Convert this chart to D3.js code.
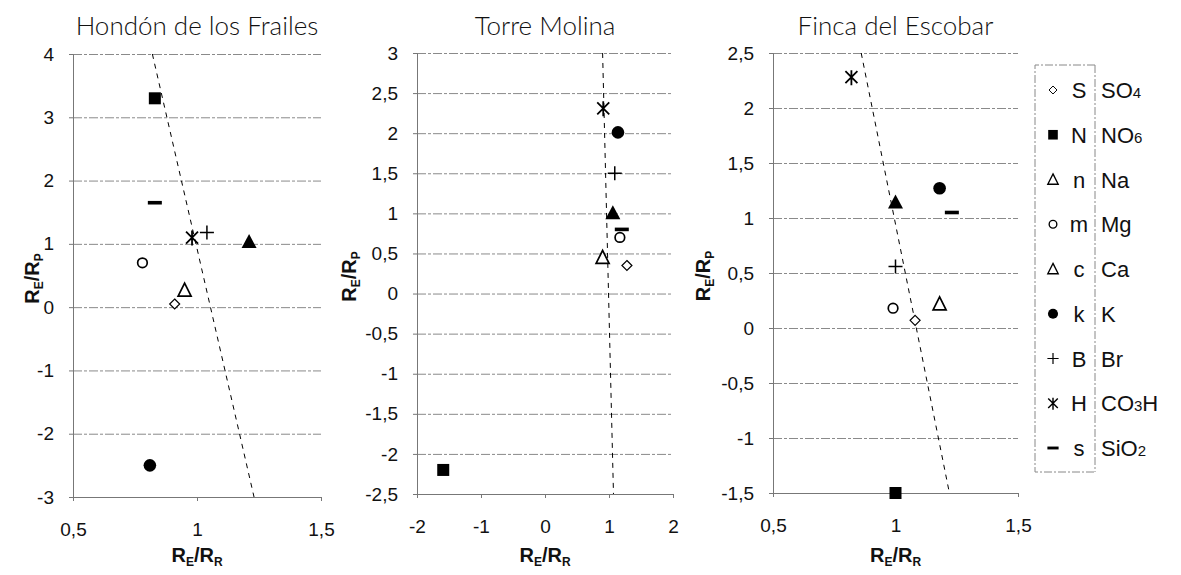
<!DOCTYPE html>
<html><head><meta charset="utf-8">
<script src="https://cdn.jsdelivr.net/npm/d3@7"></script>
<style>body{margin:0;background:#fff}svg{display:block}</style>
</head><body><svg id="c" width="1181" height="575"></svg>
<script>
// Ions (order shared by all panels)
const ions = ["SO4", "NO6", "Na", "Mg", "Ca", "K", "Br", "CO3H", "SiO2"];
const ionLetters = ["S", "N", "n", "m", "c", "k", "B", "H", "s"];
const ionMarkers = ["diamond", "square", "triangleFilled", "circleOpen", "triangleOpen", "circleFilled", "plus", "asterisk", "dash"];
const legendMarkers = ["diamond", "square", "triangleOpen", "circleOpen", "triangleOpen", "circleFilled", "plus", "asterisk", "dash"];

const titles = ["Hondón de los Frailes", "Torre Molina", "Finca del Escobar"];

// Hondón de los Frailes
const hondonX = [0.91, 0.83, 1.21, 0.78, 0.95, 0.81, 1.04, 0.98, 0.83];
const hondonY = [0.05, 3.30, 1.03, 0.70, 0.27, -2.50, 1.18, 1.10, 1.65];
const hondonLineX = [0.82, 1.23];
const hondonLineY = [4, -3];
const hondonXTicks = [0.5, 1, 1.5];
const hondonYTicks = [-3, -2, -1, 0, 1, 2, 3, 4];

// Torre Molina
const torreX = [1.28, -1.59, 1.06, 1.17, 0.90, 1.14, 1.09, 0.91, 1.20];
const torreY = [0.35, -2.20, 1.00, 0.70, 0.45, 2.01, 1.50, 2.31, 0.80];
const torreLineX = [0.90, 1.07];
const torreLineY = [3, -2.5];
const torreXTicks = [-2, -1, 0, 1, 2];
const torreYTicks = [-2.5, -2, -1.5, -1, -0.5, 0, 0.5, 1, 1.5, 2, 2.5, 3];

// Finca del Escobar
const fincaX = [1.08, 1.00, 1.00, 0.99, 1.18, 1.18, 1.00, 0.82, 1.23];
const fincaY = [0.07, -1.50, 1.14, 0.18, 0.22, 1.27, 0.56, 2.28, 1.05];
const fincaLineX = [0.86, 1.22];
const fincaLineY = [2.5, -1.5];
const fincaXTicks = [0.5, 1, 1.5];
const fincaYTicks = [-1.5, -1, -0.5, 0, 0.5, 1, 1.5, 2, 2.5];

const panels = [
  {title: titles[0], xs: hondonX, ys: hondonY, lx: hondonLineX, ly: hondonLineY, xt: hondonXTicks, yt: hondonYTicks,
   box: {x0: 73, x1: 321, y0: 54, y1: 497}, ylabX: 39},
  {title: titles[1], xs: torreX, ys: torreY, lx: torreLineX, ly: torreLineY, xt: torreXTicks, yt: torreYTicks,
   box: {x0: 417, x1: 673, y0: 53, y1: 494}, ylabX: 356},
  {title: titles[2], xs: fincaX, ys: fincaY, lx: fincaLineX, ly: fincaLineY, xt: fincaXTicks, yt: fincaYTicks,
   box: {x0: 773, x1: 1018, y0: 53, y1: 493}, ylabX: 710}
];

const FONT = "'Liberation Sans', Arial, Helvetica, sans-serif";
const svg = d3.select("#c");
const fmt = v => String(v).replace(".", ",");

function drawMarker(g, type, cx, cy, s) {
  s = s || 1;
  const k = g.append("g").attr("transform", `translate(${cx},${cy}) scale(${s})`);
  switch (type) {
    case "diamond":
      k.append("path").attr("d", "M0,-5L5,0L0,5L-5,0Z").attr("fill", "#fff").attr("stroke", "#000").attr("stroke-width", 1.2); break;
    case "square":
      k.append("rect").attr("x", -6).attr("y", -6).attr("width", 12).attr("height", 12).attr("fill", "#000"); break;
    case "triangleFilled":
      k.append("path").attr("d", "M0,-8L7.5,6L-7.5,6Z").attr("fill", "#000"); break;
    case "triangleOpen":
      k.append("path").attr("d", "M0,-7L6.5,6L-6.5,6Z").attr("fill", "#fff").attr("stroke", "#000").attr("stroke-width", 1.7); break;
    case "circleOpen":
      k.append("circle").attr("r", 4.8).attr("fill", "#fff").attr("stroke", "#000").attr("stroke-width", 1.7); break;
    case "circleFilled":
      k.append("circle").attr("r", 6.3).attr("fill", "#000"); break;
    case "plus":
      k.append("path").attr("d", "M-7,0H7M0,-7V7").attr("stroke", "#000").attr("stroke-width", 1.5); break;
    case "asterisk":
      k.append("path").attr("d", "M-6,-6L6,6M6,-6L-6,6M0,-7V8").attr("stroke", "#000").attr("stroke-width", 1.8); break;
    case "dash":
      k.append("rect").attr("x", -7).attr("y", -1.8).attr("width", 14).attr("height", 3.6).attr("fill", "#000"); break;
  }
}

function ratioLabel(parent, x, y, sub2, rotate) {
  const t = parent.append("text")
    .attr("font-family", FONT).attr("font-weight", "bold").attr("font-size", 20)
    .attr("text-anchor", "middle").attr("fill", "#111")
    .attr("transform", rotate ? `translate(${x},${y}) rotate(-90)` : `translate(${x},${y})`);
  t.append("tspan").text("R");
  t.append("tspan").attr("font-size", 12).attr("dy", 4).text("E");
  t.append("tspan").attr("dy", -4).text("/R");
  t.append("tspan").attr("font-size", 12).attr("dy", 4).text(sub2);
}

panels.forEach(p => {
  const b = p.box;
  const x = d3.scaleLinear().domain([p.xt[0], p.xt[p.xt.length - 1]]).range([b.x0, b.x1]);
  const y = d3.scaleLinear().domain([p.yt[0], p.yt[p.yt.length - 1]]).range([b.y1, b.y0]);
  const g = svg.append("g");

  // gridlines
  const grid = d3.axisLeft(y).tickValues(p.yt).tickSize(-(b.x1 - b.x0)).tickFormat("");
  g.append("g").attr("transform", `translate(${b.x0},0)`).call(grid)
    .call(s => s.select(".domain").remove())
    .call(s => s.selectAll("line").attr("stroke", "#8a8a8a").attr("stroke-width", 1).attr("stroke-dasharray", "9,2,3,2"));

  // y axis
  const ya = d3.axisLeft(y).tickValues(p.yt).tickSize(4).tickPadding(15).tickFormat(fmt);
  g.append("g").attr("transform", `translate(${b.x0},0)`).call(ya)
    .attr("font-family", FONT).attr("font-size", 19)
    .call(s => s.select(".domain").attr("stroke", "#777"))
    .call(s => s.selectAll("line").attr("stroke", "#777"))
    .call(s => s.selectAll("text").attr("fill", "#111"));

  // x axis
  const xa = d3.axisBottom(x).tickValues(p.xt).tickSize(4).tickPadding(22).tickFormat(fmt);
  g.append("g").attr("transform", `translate(0,${b.y1})`).call(xa)
    .attr("font-family", FONT).attr("font-size", 19)
    .call(s => s.select(".domain").attr("stroke", "#777"))
    .call(s => s.selectAll("line").attr("stroke", "#777"))
    .call(s => s.selectAll("text").attr("fill", "#111"));

  // dashed trend line
  const lineData = p.lx.map((v, i) => [v, p.ly[i]]);
  g.append("path").datum(lineData)
    .attr("d", d3.line().x(d => x(d[0])).y(d => y(d[1])))
    .attr("fill", "none").attr("stroke", "#000").attr("stroke-width", 1).attr("stroke-dasharray", "5,5");

  // points
  ions.forEach((ion, i) => drawMarker(g, ionMarkers[i], x(p.xs[i]), y(p.ys[i])));

  // title
  g.append("text").attr("x", (b.x0 + b.x1) / 2).attr("y", 35).attr("text-anchor", "middle")
    .attr("font-family", "Lato, sans-serif").attr("font-weight", 300).attr("font-size", 26).attr("fill", "#111")
    .text(p.title);

  ratioLabel(g, (b.x0 + b.x1) / 2, 562, "R", false);
  ratioLabel(g, p.ylabX, (b.y0 + b.y1) / 2 + 3, "P", true);
});

// legend
const lg = svg.append("g");
const lx0 = 1035, lx1 = 1095, ly0 = 65, ly1 = 472;
lg.append("path").attr("d", `M${lx1},${ly0}H${lx0}V${ly1}H${lx1}M${lx1},${ly0}V${ly1}`)
  .attr("fill", "none").attr("stroke", "#888").attr("stroke-width", 1).attr("stroke-dasharray", "8,2,2,2");
const rowY = d3.scaleLinear().domain([0, ions.length - 1]).range([90, 448]);
ions.forEach((ion, i) => {
  const cy = rowY(i);
  drawMarker(lg, legendMarkers[i], 1053, cy, 0.8);
  lg.append("text").attr("x", 1079).attr("y", cy + 8).attr("text-anchor", "middle")
    .attr("font-family", FONT).attr("font-size", 22).attr("fill", "#111").text(ionLetters[i]);
  const t = lg.append("text").attr("x", 1101).attr("y", cy + 8)
    .attr("font-family", FONT).attr("font-size", 22).attr("fill", "#111");
  ion.split(/(\d)/).filter(s => s.length).forEach(part => {
    const ts = t.append("tspan").text(part);
    if (/\d/.test(part)) ts.attr("font-size", 15);
  });
});
</script></body></html>
